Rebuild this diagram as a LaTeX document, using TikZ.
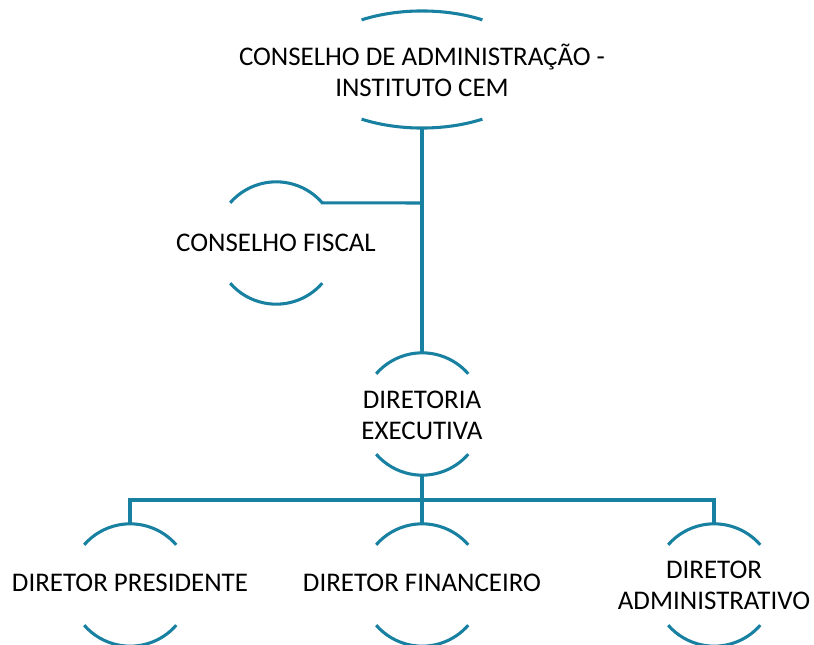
\documentclass[tikz,border=0pt]{standalone}
\usepackage{fontspec}
\setmainfont{Carlito}
\usetikzlibrary{calc,shapes.geometric}
\definecolor{teal1}{RGB}{24,128,160}
\tikzset{
  x=0.75pt,y=0.75pt,
  arcline/.style={draw=teal1,line width=2.3pt},
  conn/.style={draw=teal1,line width=2.3pt},
  holder/.style={circle,draw=none,inner sep=0pt,minimum size=91.5pt},
  lbl/.style={align=center,font=\fontsize{20.2}{23.3}\selectfont,text=black,inner sep=0pt},
}
\newcommand{\circarcs}[1]{%
  \draw[arcline] (#1.41) arc[start angle=41,end angle=139,radius=45.75pt];
  \draw[arcline] (#1.-41) arc[start angle=-41,end angle=-139,radius=45.75pt];
}
\begin{document}
\begin{tikzpicture}
\useasboundingbox (0,0) rectangle (814,-645);
% shapes
\node[ellipse,draw=none,inner sep=0pt,minimum width=171pt,minimum height=87.75pt] (top) at (422,-69.5) {};
\node[holder] (cf) at (276,-243) {};
\node[holder] (dir) at (422,-414) {};
\node[holder] (pres) at (130,-585) {};
\node[holder] (fin) at (422,-585) {};
\node[holder] (adm) at (714,-585) {};
% arcs
\draw[arcline] ($(top.center)+(58:85.5pt and 43.9pt)$) arc[start angle=58,end angle=122,x radius=85.5pt,y radius=43.9pt];
\draw[arcline] ($(top.center)+(-58:85.5pt and 43.9pt)$) arc[start angle=-58,end angle=-122,x radius=85.5pt,y radius=43.9pt];
\circarcs{cf}
\circarcs{dir}
\circarcs{pres}
\circarcs{fin}
\circarcs{adm}
% texts
\node[lbl] (ttop) at (422,-70.5) {CONSELHO DE ADMINISTRAÇÃO -\\INSTITUTO CEM};
\node[lbl] (tcf) at (276,-243) {CONSELHO FISCAL};
\node[lbl] (tdir) at (422,-415) {DIRETORIA\\EXECUTIVA};
\node[lbl] (tpres) at (130,-583) {DIRETOR PRESIDENTE};
\node[lbl] (tfin) at (422,-583) {DIRETOR FINANCEIRO};
\node[lbl] (tadm) at (714,-585) {DIRETOR\\ADMINISTRATIVO};
% connectors
\coordinate (bus) at (422,-500);
\coordinate (br) at (422,-203);
\draw[conn] (top.south) -- (dir.north);
\draw[conn] (br) -- ([xshift=-1pt]cf.41);
\draw[conn] (dir.south) -- (bus);
\draw[conn] (bus) -| (pres.north);
\draw[conn] (bus) -| (adm.north);
\draw[conn] (bus) -- (fin.north);
\end{tikzpicture}
\end{document}
